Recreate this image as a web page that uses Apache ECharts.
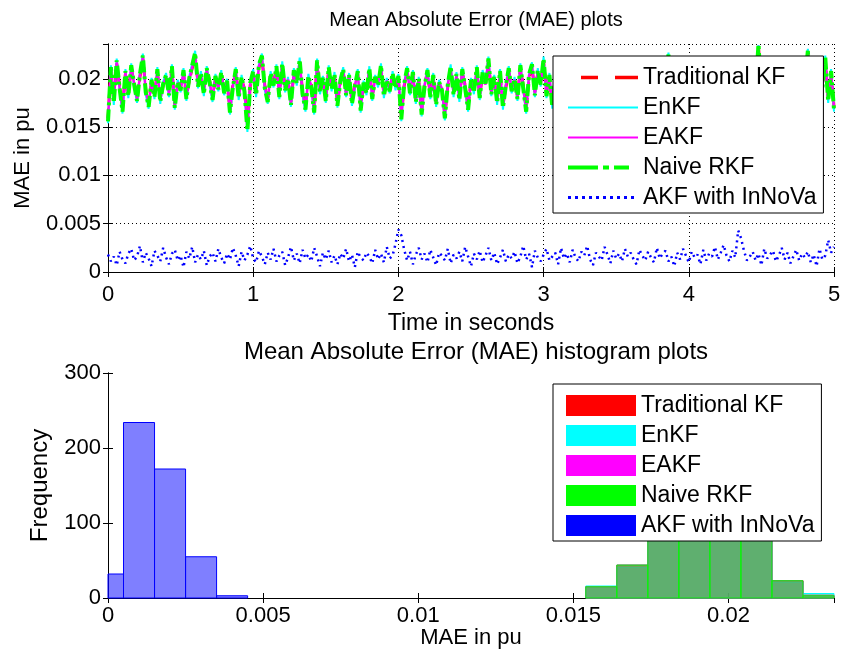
<!DOCTYPE html>
<html>
<head>
<meta charset="utf-8">
<title>MAE plots</title>
<script src="https://cdn.jsdelivr.net/npm/echarts/dist/echarts.min.js"></script>
<style>
  html, body { margin: 0; padding: 0; background: #fff; }
  #main { width: 852px; height: 663px; }
</style>
</head>
<body>
<div id="main"></div>
<script>
// sample spacing of the MAE traces (seconds)
var sampleStep = 0.02;

var seriesNames = ['Traditional KF', 'EnKF', 'EAKF', 'Naive RKF', 'AKF with InNoVa'];

// MAE per time step (rows of 0.2 s)
var tradKF = [
  0.0159,0.0209,0.0178,0.0216,0.0192,0.0169,0.0205,0.0185,0.0211,0.0196,
  0.0180,0.0202,0.0221,0.0189,0.0174,0.0197,0.0184,0.0207,0.0179,0.0193,
  0.0201,0.0186,0.0210,0.0173,0.0195,0.0191,0.0206,0.0182,0.0198,0.0211,
  0.0224,0.0195,0.0203,0.0187,0.0208,0.0198,0.0181,0.0200,0.0192,0.0204,
  0.0188,0.0196,0.0168,0.0194,0.0207,0.0183,0.0199,0.0190,0.0150,0.0194,
  0.0205,0.0186,0.0212,0.0221,0.0193,0.0179,0.0203,0.0196,0.0210,0.0184,
  0.0213,0.0191,0.0198,0.0176,0.0206,0.0197,0.0217,0.0187,0.0171,0.0200,
  0.0194,0.0168,0.0216,0.0189,0.0198,0.0180,0.0209,0.0192,0.0202,0.0175,
  0.0196,0.0207,0.0186,0.0201,0.0177,0.0194,0.0205,0.0170,0.0194,0.0188,
  0.0208,0.0182,0.0199,0.0196,0.0211,0.0185,0.0197,0.0190,0.0203,0.0193,
  0.0200,0.0161,0.0193,0.0208,0.0188,0.0204,0.0179,0.0198,0.0166,0.0195,
  0.0206,0.0184,0.0201,0.0176,0.0195,0.0191,0.0162,0.0192,0.0210,0.0186,
  0.0202,0.0181,0.0207,0.0193,0.0171,0.0197,0.0189,0.0209,0.0183,0.0204,
  0.0193,0.0218,0.0187,0.0199,0.0178,0.0205,0.0173,0.0191,0.0208,0.0190,
  0.0198,0.0182,0.0211,0.0193,0.0169,0.0202,0.0212,0.0186,0.0206,0.0196,
  0.0218,0.0185,0.0201,0.0174,0.0196,0.0192,0.0209,0.0181,0.0199,0.0189,
  0.0206,0.0178,0.0194,0.0211,0.0187,0.0200,0.0172,0.0190,0.0208,0.0183,
  0.0198,0.0191,0.0210,0.0180,0.0203,0.0194,0.0168,0.0196,0.0185,0.0207,
  0.0190,0.0202,0.0177,0.0213,0.0196,0.0184,0.0205,0.0173,0.0197,0.0189,
  0.0209,0.0182,0.0200,0.0222,0.0193,0.0203,0.0179,0.0193,0.0212,0.0187,
  0.0198,0.0171,0.0207,0.0192,0.0201,0.0181,0.0195,0.0211,0.0186,0.0204,
  0.0195,0.0176,0.0206,0.0189,0.0214,0.0198,0.0183,0.0199,0.0170,0.0197,
  0.0208,0.0188,0.0201,0.0193,0.0233,0.0185,0.0205,0.0177,0.0194,0.0210,
  0.0190,0.0197,0.0173,0.0207,0.0196,0.0182,0.0203,0.0191,0.0212,0.0186,
  0.0196,0.0226,0.0184,0.0202,0.0172,0.0209,0.0193,0.0219,0.0180,0.0205,
  0.0171
];
var enKF = [
  0.0154,0.0214,0.0173,0.0221,0.0188,0.0164,0.0210,0.0180,0.0216,0.0192,
  0.0175,0.0207,0.0226,0.0184,0.0169,0.0201,0.0179,0.0212,0.0174,0.0197,
  0.0206,0.0181,0.0215,0.0168,0.0199,0.0186,0.0211,0.0177,0.0203,0.0216,
  0.0229,0.0190,0.0208,0.0182,0.0213,0.0194,0.0176,0.0205,0.0187,0.0209,
  0.0183,0.0200,0.0163,0.0189,0.0212,0.0178,0.0204,0.0185,0.0145,0.0198,
  0.0210,0.0181,0.0217,0.0226,0.0188,0.0174,0.0208,0.0191,0.0215,0.0179,
  0.0218,0.0186,0.0202,0.0171,0.0211,0.0193,0.0222,0.0182,0.0166,0.0205,
  0.0189,0.0163,0.0221,0.0184,0.0203,0.0175,0.0214,0.0187,0.0207,0.0170,
  0.0200,0.0212,0.0181,0.0206,0.0172,0.0190,0.0210,0.0165,0.0198,0.0183,
  0.0213,0.0177,0.0204,0.0191,0.0216,0.0180,0.0201,0.0185,0.0208,0.0188,
  0.0205,0.0156,0.0197,0.0213,0.0183,0.0209,0.0174,0.0202,0.0161,0.0194,
  0.0211,0.0179,0.0206,0.0171,0.0199,0.0186,0.0157,0.0196,0.0215,0.0181,
  0.0207,0.0176,0.0212,0.0188,0.0166,0.0201,0.0184,0.0214,0.0178,0.0209,
  0.0197,0.0223,0.0182,0.0204,0.0173,0.0210,0.0168,0.0195,0.0213,0.0185,
  0.0202,0.0177,0.0216,0.0188,0.0164,0.0207,0.0217,0.0181,0.0211,0.0192,
  0.0223,0.0180,0.0206,0.0169,0.0200,0.0187,0.0214,0.0176,0.0203,0.0184,
  0.0211,0.0173,0.0198,0.0216,0.0182,0.0205,0.0167,0.0194,0.0213,0.0178,
  0.0202,0.0186,0.0215,0.0175,0.0208,0.0189,0.0163,0.0200,0.0180,0.0212,
  0.0185,0.0207,0.0172,0.0218,0.0191,0.0179,0.0210,0.0168,0.0201,0.0184,
  0.0214,0.0177,0.0205,0.0227,0.0188,0.0208,0.0174,0.0197,0.0217,0.0182,
  0.0203,0.0166,0.0212,0.0187,0.0206,0.0176,0.0199,0.0216,0.0181,0.0209,
  0.0190,0.0171,0.0211,0.0184,0.0219,0.0193,0.0178,0.0204,0.0165,0.0201,
  0.0213,0.0183,0.0206,0.0188,0.0235,0.0180,0.0210,0.0172,0.0198,0.0215,
  0.0185,0.0202,0.0168,0.0212,0.0191,0.0177,0.0208,0.0186,0.0217,0.0181,
  0.0200,0.0231,0.0179,0.0207,0.0167,0.0214,0.0188,0.0224,0.0175,0.0210,
  0.0166
];
var eaKF = [
  0.0160,0.0210,0.0179,0.0217,0.0191,0.0168,0.0207,0.0184,0.0212,0.0195,
  0.0179,0.0203,0.0222,0.0188,0.0173,0.0198,0.0183,0.0208,0.0178,0.0194,
  0.0202,0.0185,0.0211,0.0172,0.0196,0.0190,0.0207,0.0181,0.0199,0.0212,
  0.0225,0.0194,0.0204,0.0186,0.0209,0.0197,0.0180,0.0201,0.0191,0.0205,
  0.0187,0.0197,0.0167,0.0193,0.0208,0.0182,0.0200,0.0189,0.0149,0.0195,
  0.0206,0.0185,0.0213,0.0222,0.0192,0.0178,0.0204,0.0195,0.0211,0.0183,
  0.0214,0.0190,0.0199,0.0175,0.0207,0.0196,0.0218,0.0186,0.0170,0.0201,
  0.0193,0.0167,0.0217,0.0188,0.0199,0.0179,0.0210,0.0191,0.0203,0.0174,
  0.0197,0.0208,0.0185,0.0202,0.0176,0.0193,0.0206,0.0169,0.0195,0.0187,
  0.0209,0.0181,0.0200,0.0195,0.0212,0.0184,0.0198,0.0189,0.0204,0.0192,
  0.0201,0.0160,0.0194,0.0209,0.0187,0.0205,0.0178,0.0199,0.0165,0.0193,
  0.0207,0.0183,0.0202,0.0175,0.0196,0.0190,0.0161,0.0193,0.0211,0.0185,
  0.0203,0.0180,0.0208,0.0192,0.0170,0.0198,0.0188,0.0210,0.0182,0.0205,
  0.0194,0.0219,0.0186,0.0200,0.0177,0.0206,0.0172,0.0192,0.0209,0.0189,
  0.0199,0.0181,0.0212,0.0192,0.0168,0.0203,0.0213,0.0185,0.0207,0.0195,
  0.0219,0.0184,0.0202,0.0173,0.0197,0.0191,0.0210,0.0180,0.0200,0.0188,
  0.0207,0.0177,0.0195,0.0212,0.0186,0.0201,0.0171,0.0191,0.0209,0.0182,
  0.0199,0.0190,0.0211,0.0179,0.0204,0.0193,0.0167,0.0197,0.0184,0.0208,
  0.0189,0.0203,0.0176,0.0214,0.0195,0.0183,0.0206,0.0172,0.0198,0.0188,
  0.0210,0.0181,0.0201,0.0223,0.0192,0.0204,0.0178,0.0194,0.0213,0.0186,
  0.0199,0.0170,0.0208,0.0191,0.0202,0.0180,0.0196,0.0212,0.0185,0.0205,
  0.0194,0.0175,0.0207,0.0188,0.0215,0.0197,0.0182,0.0200,0.0169,0.0198,
  0.0209,0.0187,0.0202,0.0192,0.0234,0.0184,0.0206,0.0176,0.0195,0.0211,
  0.0189,0.0198,0.0172,0.0208,0.0195,0.0181,0.0204,0.0190,0.0213,0.0185,
  0.0197,0.0227,0.0183,0.0203,0.0171,0.0210,0.0192,0.0220,0.0179,0.0206,
  0.0170
];
var naiveRKF = [
  0.0156,0.0212,0.0175,0.0219,0.0190,0.0166,0.0208,0.0182,0.0214,0.0194,
  0.0177,0.0205,0.0224,0.0186,0.0171,0.0199,0.0181,0.0210,0.0176,0.0195,
  0.0204,0.0183,0.0213,0.0170,0.0197,0.0188,0.0209,0.0179,0.0201,0.0214,
  0.0227,0.0192,0.0206,0.0184,0.0211,0.0196,0.0178,0.0203,0.0189,0.0207,
  0.0185,0.0198,0.0165,0.0191,0.0210,0.0180,0.0202,0.0187,0.0146,0.0196,
  0.0208,0.0183,0.0215,0.0224,0.0190,0.0176,0.0206,0.0193,0.0213,0.0181,
  0.0216,0.0188,0.0200,0.0173,0.0209,0.0195,0.0220,0.0184,0.0168,0.0203,
  0.0191,0.0165,0.0219,0.0186,0.0201,0.0177,0.0212,0.0189,0.0205,0.0172,
  0.0198,0.0210,0.0183,0.0204,0.0174,0.0192,0.0208,0.0167,0.0196,0.0185,
  0.0211,0.0179,0.0202,0.0193,0.0214,0.0182,0.0199,0.0187,0.0206,0.0190,
  0.0203,0.0158,0.0195,0.0211,0.0185,0.0207,0.0176,0.0200,0.0163,0.0192,
  0.0209,0.0181,0.0204,0.0173,0.0197,0.0188,0.0159,0.0194,0.0213,0.0183,
  0.0205,0.0178,0.0210,0.0190,0.0168,0.0199,0.0186,0.0212,0.0180,0.0207,
  0.0195,0.0221,0.0184,0.0202,0.0175,0.0208,0.0170,0.0193,0.0211,0.0187,
  0.0200,0.0179,0.0214,0.0190,0.0166,0.0205,0.0215,0.0183,0.0209,0.0194,
  0.0221,0.0182,0.0204,0.0171,0.0198,0.0189,0.0212,0.0178,0.0201,0.0186,
  0.0209,0.0175,0.0196,0.0214,0.0184,0.0203,0.0169,0.0192,0.0211,0.0180,
  0.0200,0.0188,0.0213,0.0177,0.0206,0.0191,0.0165,0.0198,0.0182,0.0210,
  0.0187,0.0205,0.0174,0.0216,0.0193,0.0181,0.0208,0.0170,0.0199,0.0186,
  0.0212,0.0179,0.0203,0.0225,0.0190,0.0206,0.0176,0.0195,0.0215,0.0184,
  0.0201,0.0168,0.0210,0.0189,0.0204,0.0178,0.0197,0.0214,0.0183,0.0207,
  0.0192,0.0173,0.0209,0.0186,0.0217,0.0195,0.0180,0.0202,0.0167,0.0199,
  0.0211,0.0185,0.0204,0.0190,0.0236,0.0182,0.0208,0.0174,0.0196,0.0213,
  0.0187,0.0200,0.0170,0.0210,0.0193,0.0179,0.0206,0.0188,0.0215,0.0183,
  0.0198,0.0229,0.0181,0.0205,0.0169,0.0212,0.0190,0.0222,0.0177,0.0208,
  0.0168
];
var akfInnova = [
  0.0018,0.0011,0.0016,0.0007,0.0021,0.0013,0.0009,0.0019,0.0024,0.0012,
  0.0016,0.0027,0.0010,0.0020,0.0014,0.0006,0.0022,0.0017,0.0011,0.0025,
  0.0015,0.0008,0.0019,0.0023,0.0012,0.0017,0.0005,0.0021,0.0014,0.0026,
  0.0010,0.0018,0.0013,0.0022,0.0007,0.0016,0.0020,0.0011,0.0024,0.0015,
  0.0009,0.0019,0.0013,0.0025,0.0017,0.0006,0.0021,0.0012,0.0018,0.0027,
  0.0014,0.0010,0.0022,0.0016,0.0008,0.0020,0.0013,0.0024,0.0011,0.0017,
  0.0021,0.0007,0.0015,0.0026,0.0012,0.0019,0.0009,0.0023,0.0014,0.0018,
  0.0011,0.0025,0.0016,0.0006,0.0020,0.0013,0.0022,0.0010,0.0017,0.0008,
  0.0019,0.0014,0.0024,0.0011,0.0018,0.0005,0.0021,0.0015,0.0012,0.0020,
  0.0016,0.0009,0.0023,0.0013,0.0019,0.0010,0.0026,0.0014,0.0017,0.0029,
  0.0044,0.0038,0.0023,0.0012,0.0021,0.0008,0.0018,0.0025,0.0013,0.0019,
  0.0010,0.0023,0.0015,0.0007,0.0020,0.0017,0.0012,0.0024,0.0009,0.0018,
  0.0014,0.0021,0.0011,0.0026,0.0016,0.0006,0.0019,0.0013,0.0022,0.0010,
  0.0017,0.0025,0.0012,0.0020,0.0008,0.0015,0.0023,0.0011,0.0018,0.0014,
  0.0021,0.0009,0.0016,0.0027,0.0013,0.0019,0.0005,0.0022,0.0015,0.0011,
  0.0018,0.0024,0.0012,0.0016,0.0020,0.0008,0.0025,0.0014,0.0019,0.0010,
  0.0023,0.0015,0.0011,0.0021,0.0017,0.0027,0.0013,0.0007,0.0020,0.0016,
  0.0012,0.0026,0.0018,0.0009,0.0022,0.0014,0.0019,0.0011,0.0024,0.0016,
  0.0020,0.0013,0.0008,0.0023,0.0017,0.0012,0.0021,0.0015,0.0010,0.0025,
  0.0014,0.0019,0.0022,0.0011,0.0016,0.0006,0.0020,0.0013,0.0024,0.0017,
  0.0010,0.0021,0.0015,0.0018,0.0008,0.0023,0.0012,0.0019,0.0016,0.0026,
  0.0013,0.0020,0.0028,0.0017,0.0011,0.0022,0.0015,0.0043,0.0035,0.0022,
  0.0012,0.0016,0.0021,0.0012,0.0019,0.0007,0.0024,0.0014,0.0018,0.0022,
  0.0011,0.0017,0.0025,0.0013,0.0020,0.0009,0.0016,0.0023,0.0012,0.0019,
  0.0015,0.0021,0.0010,0.0018,0.0006,0.0024,0.0013,0.0017,0.0033,0.0020,
  0.0026
];

// histogram bins (edges) and counts, lower plot
var kfBinEdges = [0.0154, 0.0164, 0.0174, 0.0184, 0.0194, 0.0204, 0.0214, 0.0224, 0.0234];
var tradKFCounts = [15, 43, 99, 111, 109, 96, 23, 4];
var enKFCounts = [16, 41, 97, 113, 110, 96, 21, 6];
var eaKFCounts = [15, 44, 98, 112, 108, 97, 23, 3];
var naiveRKFCounts = [15, 44, 98, 112, 108, 97, 23, 3];
var akfBinEdges = [0, 0.0005, 0.0015, 0.0025, 0.0035, 0.0045];
var akfCounts = [32, 234, 172, 55, 3];

var timeTicks = [0, 5, 1];        // min, max, step
var maeTicks = [0, 0.0236, 0.005];
var histXTicks = [0, 0.0234, 0.005];
var freqTicks = [0, 300, 100];

var colors = ['#ff0000', '#00ffff', '#ff00ff', '#00ff00', '#0000ff'];
var fillColors = ['rgba(255,0,0,0.5)', 'rgba(0,255,255,0.5)', 'rgba(255,0,255,0.5)',
                  'rgba(0,255,0,0.5)', 'rgba(0,0,255,0.5)'];

var font = "'Liberation Sans', Arial, Helvetica, sans-serif";

function toPairs(values) {
  return values.map(function (v, i) { return [+(i * sampleStep).toFixed(2), v]; });
}

function toBins(edges, counts) {
  return counts.map(function (c, i) { return [edges[i], edges[i + 1], c]; });
}

function histItem(params, api) {
  var p0 = api.coord([api.value(0), 0]);
  var p1 = api.coord([api.value(1), api.value(2)]);
  return {
    type: 'rect',
    shape: { x: p0[0], y: p1[1], width: p1[0] - p0[0], height: p0[1] - p1[1] },
    style: api.style()
  };
}

function mainAxis(gridIndex, ticks, extra) {
  var ax = {
    type: 'value',
    gridIndex: gridIndex,
    min: ticks[0],
    max: ticks[1],
    interval: ticks[2],
    axisLine: { show: true, lineStyle: { color: '#000', width: 1 } },
    axisTick: { show: true, inside: true, length: 5, lineStyle: { color: '#000' } },
    axisLabel: { color: '#000', fontSize: 22, fontFamily: font, margin: 7, showMaxLabel: false },
    splitLine: { show: false },
    nameLocation: 'middle',
    nameTextStyle: { color: '#000', fontSize: 22, fontFamily: font },
    nameMoveOverlap: false
  };
  return Object.assign(ax, extra || {});
}

function mirrorAxis(gridIndex, ticks, position) {
  return {
    type: 'value',
    gridIndex: gridIndex,
    position: position,
    min: ticks[0],
    max: ticks[1],
    interval: ticks[2],
    axisLine: { show: true, lineStyle: { color: '#000', width: 1 } },
    axisTick: { show: true, inside: true, length: 5, lineStyle: { color: '#000' } },
    axisLabel: { show: false },
    splitLine: { show: false }
  };
}

var gridDots = { show: true, lineStyle: { color: '#000', width: 1, type: [1, 3] } };

var chartDom = document.getElementById('main');
var myChart = echarts.init(chartDom, null, { renderer: 'canvas' });

var lineStyles = [
  { color: colors[0], width: 3, type: [10, 6] },
  { color: colors[1], width: 2, type: 'solid' },
  { color: colors[2], width: 2.5, type: 'solid' },
  { color: colors[3], width: 4, type: [12, 4, 3, 4] },
  { color: colors[4], width: 2.5, type: [2, 4] }
];
// legend samples use the longer dash pattern seen in the key
var legendLines = [
  { color: colors[0], width: 3.5, type: [0, 13, 17, 17, 23, 10] },
  { color: colors[1], width: 2, type: 'solid' },
  { color: colors[2], width: 2, type: 'solid' },
  { color: colors[3], width: 4, type: [30, 5, 6, 5, 15, 20] },
  { color: colors[4], width: 3, type: [3, 4] }
];
var traces = [tradKF, enKF, eaKF, naiveRKF, akfInnova];

var series = [];
traces.forEach(function (values, k) {
  series.push({
    name: seriesNames[k],
    type: 'line',
    xAxisIndex: 0,
    yAxisIndex: 0,
    symbol: 'none',
    itemStyle: { color: colors[k] },
    lineStyle: lineStyles[k],
    data: toPairs(values),
    z: 2 + k
  });
});

var hists = [
  toBins(kfBinEdges, tradKFCounts),
  toBins(kfBinEdges, enKFCounts),
  toBins(kfBinEdges, eaKFCounts),
  toBins(kfBinEdges, naiveRKFCounts),
  toBins(akfBinEdges, akfCounts)
];
hists.forEach(function (bins, k) {
  series.push({
    name: seriesNames[k],
    type: 'custom',
    xAxisIndex: 2,
    yAxisIndex: 2,
    renderItem: histItem,
    itemStyle: { color: fillColors[k], borderColor: colors[k], borderWidth: 1 },
    encode: { x: [0, 1], y: 2 },
    data: bins,
    z: 2 + k
  });
});

var legendBase = {
  orient: 'vertical',
  left: 553,
  z: 20,
  itemWidth: 70,
  itemHeight: 21,
  itemGap: 7,
  padding: [10, 7, 4, 13],
  backgroundColor: '#fff',
  borderColor: '#000',
  borderWidth: 1,
  borderRadius: 0,
  selectedMode: false,
  textStyle: { color: '#000', fontSize: 23, fontFamily: font }
};

var option = {
  animation: false,
  backgroundColor: '#fff',
  title: [
    {
      text: 'Mean Absolute Error (MAE) plots',
      left: 471, top: 5, textAlign: 'center',
      textStyle: { color: '#000', fontSize: 20, fontWeight: 'normal', fontFamily: font }
    },
    {
      text: 'Mean Absolute Error (MAE) histogram plots',
      left: 471, top: 335, textAlign: 'center',
      textStyle: { color: '#000', fontSize: 24, fontWeight: 'normal', fontFamily: font }
    }
  ],
  legend: [
    Object.assign({}, legendBase, {
      top: 56,
      data: seriesNames.map(function (n, k) {
        return { name: n, lineStyle: legendLines[k],
                 itemStyle: { color: 'rgba(0,0,0,0)', borderWidth: 0, opacity: 0 } };
      })
    }),
    Object.assign({}, legendBase, {
      top: 384,
      data: seriesNames.map(function (n, k) {
        return { name: n, icon: 'rect', itemStyle: { color: colors[k], borderWidth: 0, opacity: 1 } };
      })
    })
  ],
  grid: [
    { left: 108, top: 44, width: 726, height: 228 },
    { left: 108, top: 373, width: 726, height: 225 }
  ],
  xAxis: [
    mainAxis(0, timeTicks, { name: 'Time in seconds', nameGap: 40, splitLine: gridDots,
      nameTextStyle: { color: '#000', fontSize: 23, fontFamily: font },
      axisLabel: { color: '#000', fontSize: 22, fontFamily: font, margin: 12 } }),
    mirrorAxis(0, timeTicks, 'top'),
    mainAxis(1, histXTicks, { name: 'MAE in pu', nameGap: 29 }),
    mirrorAxis(1, histXTicks, 'top')
  ],
  yAxis: [
    mainAxis(0, maeTicks, { name: 'MAE in pu', nameGap: 74, splitLine: gridDots }),
    mirrorAxis(0, maeTicks, 'right'),
    mainAxis(1, freqTicks, { name: 'Frequency', nameGap: 56,
      nameTextStyle: { color: '#000', fontSize: 24, fontFamily: font },
      axisLabel: { color: '#000', fontSize: 22, fontFamily: font, margin: 7 } }),
    mirrorAxis(1, freqTicks, 'right')
  ],
  series: series
};

option && myChart.setOption(option);
</script>
</body>
</html>
